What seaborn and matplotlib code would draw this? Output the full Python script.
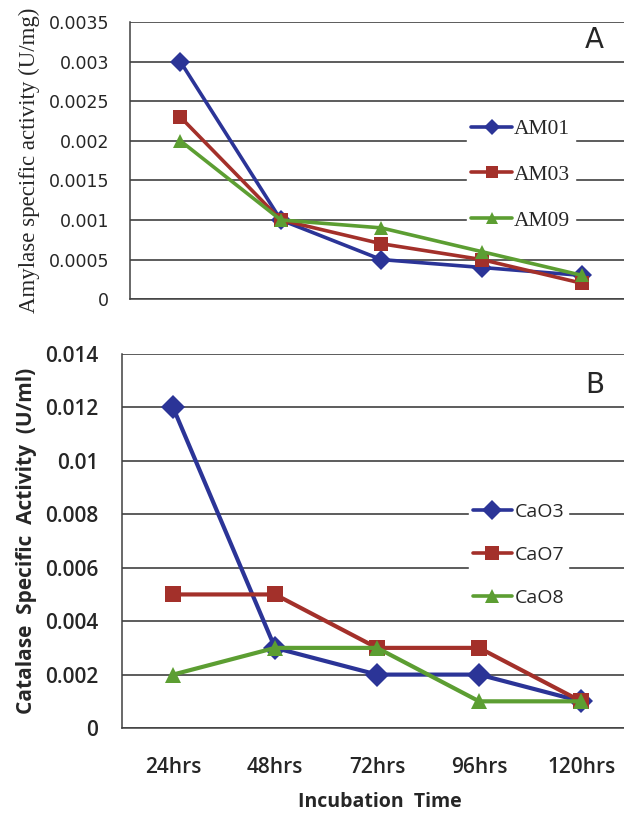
#recreating amylase / catalase specific activity line charts
import numpy as np
import pandas as pd
import seaborn as sns
import matplotlib.pyplot as plt
from matplotlib.ticker import FixedLocator

hours = ['24hrs', '48hrs', '72hrs', '96hrs', '120hrs']

amylase_names = ['AM01', 'AM03', 'AM09']
am01 = [0.003, 0.001, 0.0005, 0.0004, 0.0003]
am03 = [0.0023, 0.001, 0.0007, 0.0005, 0.0002]
am09 = [0.002, 0.001, 0.0009, 0.0006, 0.0003]
amylase_ticks = [0, 0.0005, 0.001, 0.0015, 0.002, 0.0025, 0.003, 0.0035]
amylase_labels = ['0', '0.0005', '0.001', '0.0015', '0.002', '0.0025', '0.003', '0.0035']

catalase_names = ['CaO3', 'CaO7', 'CaO8']
cao3 = [0.012, 0.003, 0.002, 0.002, 0.001]
cao7 = [0.005, 0.005, 0.003, 0.003, 0.001]
cao8 = [0.002, 0.003, 0.003, 0.001, 0.001]
catalase_ticks = [0, 0.002, 0.004, 0.006, 0.008, 0.01, 0.012, 0.014]
catalase_labels = ['0', '0.002', '0.004', '0.006', '0.008', '0.01', '0.012', '0.014']

colors = ['#2B3497', '#A3302A', '#5C9E32']
marks = ['D', 's', '^']


def make_df(names, series):
    rows = []
    for name, vals in zip(names, series):
        for i, v in enumerate(vals):
            rows.append({'x': i, 'hour': hours[i], 'strain': name, 'value': v})
    return pd.DataFrame(rows)


def style_axis(ax, ticks, labels, font, xlim_right, ypad):
    ax.set_xlim(-0.5, xlim_right)
    ax.set_yticks(ticks)
    ax.set_yticklabels(labels, **font)
    ax.set_ylim(ticks[0], ticks[-1])
    ax.grid(axis='y', color='#303030', lw=1.1)
    ax.grid(axis='x', visible=False)
    ax.set_axisbelow(True)
    for s in ['top', 'right']:
        ax.spines[s].set_visible(False)
    for s in ['left', 'bottom']:
        ax.spines[s].set_color('#404040')
        ax.spines[s].set_linewidth(1.1)
    ax.set_xticks(range(5))
    ax.xaxis.set_minor_locator(FixedLocator(np.arange(-0.5, 5, 1.0)))
    ax.tick_params(axis='x', which='minor', length=5, width=1.1, color='#404040', direction='out')
    ax.tick_params(axis='x', which='major', length=0)
    ax.tick_params(axis='y', length=5, width=1.1, color='#404040', pad=ypad)
    ax.set_xlabel('')


sns.set_style('white')
fig = plt.figure(figsize=(6.24, 8.13), dpi=100)
ax1 = fig.add_axes([0.2085, 0.632, 1.0 - 0.2085, 0.341])
ax2 = fig.add_axes([0.1955, 0.1045, 1.0 - 0.1955, 0.4601])

# panel A
df_a = make_df(amylase_names, [am01, am03, am09])
sns.lineplot(data=df_a, x='x', y='value', hue='strain', style='strain',
             palette=dict(zip(amylase_names, colors)),
             markers=dict(zip(amylase_names, marks)), dashes=False,
             markersize=10, markeredgewidth=0, linewidth=2.6, ax=ax1)
style_axis(ax1, amylase_ticks, amylase_labels, {'family': 'DejaVu Sans', 'fontsize': 12.5},
           4.415, 10)
ax1.set_xticklabels([])
ax1.set_ylabel('Amylase specific activity (U/mg)', family='Liberation Serif', fontsize=16.5, labelpad=6)
ax1.text(0.94, 0.935, 'A', transform=ax1.transAxes, fontsize=20, family='DejaVu Sans',
         ha='center', va='center')
leg1 = ax1.legend(loc='center left', bbox_to_anchor=(0.66, 0.448), frameon=True, framealpha=1,
                  edgecolor='white', facecolor='white', handlelength=1.9, handletextpad=0.1,
                  labelspacing=1.2, borderpad=0.2,
                  prop={'family': 'Liberation Serif', 'size': 15.5})
for h in leg1.legend_handles:
    h.set_linewidth(2.6)
    h.set_markersize(8)

# panel B
df_b = make_df(catalase_names, [cao3, cao7, cao8])
sns.lineplot(data=df_b, x='x', y='value', hue='strain', style='strain',
             palette=dict(zip(catalase_names, colors)),
             markers=dict(zip(catalase_names, marks)), dashes=False,
             markersize=12, markeredgewidth=0, linewidth=3.0, ax=ax2)
style_axis(ax2, catalase_ticks, catalase_labels,
           {'family': 'Open Sans', 'fontsize': 15, 'fontweight': 'semibold'}, 4.42, 12)
ax2.set_xticklabels(hours, family='Open Sans', fontsize=15, fontweight='semibold')
ax2.tick_params(axis='x', which='major', pad=21)
ax2.set_ylabel('Catalase  Specific  Activity  (U/ml)', family='Open Sans', fontsize=15,
               fontweight='bold', labelpad=6)
ax2.set_xlabel('Incubation  Time', family='Open Sans', fontsize=14, fontweight='bold')
ax2.xaxis.set_label_coords(0.514, -0.17)
ax2.text(0.942, 0.917, 'B', transform=ax2.transAxes, fontsize=20, family='DejaVu Sans',
         ha='center', va='center')
leg2 = ax2.legend(loc='center left', bbox_to_anchor=(0.672, 0.4626), frameon=True, framealpha=1,
                  edgecolor='white', facecolor='white', handlelength=2.0, handletextpad=0.15,
                  labelspacing=1.3, borderpad=0.2,
                  prop={'family': 'Open Sans', 'size': 14})
for h in leg2.legend_handles:
    h.set_linewidth(2.6)
    h.set_markersize(10)

fig.savefig('out.png', dpi=100, facecolor='white')
